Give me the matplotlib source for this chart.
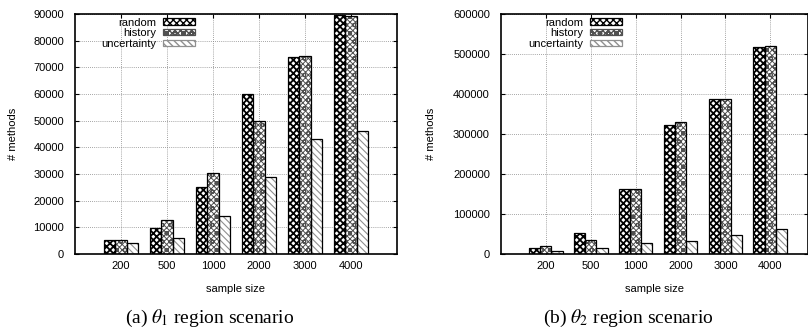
import matplotlib
matplotlib.use("Agg")
import matplotlib.pyplot as plt
import numpy as np

plt.rcParams['font.family'] = ['Liberation Sans', 'DejaVu Sans']
plt.rcParams['mathtext.fontset'] = 'stix'

categories = ["200", "500", "1000", "2000", "3000", "4000"]
series_names = ["random", "history", "uncertainty"]

theta1_random = [5200, 9850, 25300, 59900, 73900, 89800]
theta1_history = [5200, 12700, 30200, 49700, 74400, 89400]
theta1_uncertainty = [4200, 5850, 14300, 28700, 43300, 46100]

theta2_random = [15000, 51500, 163000, 323000, 388000, 518500]
theta2_history = [20800, 34000, 163000, 331000, 388000, 520000]
theta2_uncertainty = [6600, 15000, 28300, 31600, 47400, 63200]

styles = [
    dict(hatch='xxxxx', color='black', lw=1.3),
    dict(hatch='xxxxxxoo', color='#505050', lw=0.7),
    dict(hatch='\\\\\\\\\\', color='#909090', lw=0.8),
]

W, H = 808, 332
fig = plt.figure(figsize=(W / 100, H / 100), dpi=100)

def make_axes(x0, x1, y0, y1):
    return fig.add_axes([x0 / W, 1 - y1 / H, (x1 - x0) / W, (y1 - y0) / H])

ax1 = make_axes(75, 397, 14, 254)
ax2 = make_axes(501, 808, 14, 254)

def draw(ax, data, ymax, ystep, xmax, leg_right, ylabel_x, caption, cap_x):
    x = np.arange(1, len(categories) + 1)
    bw = 0.25
    handles = []
    for i, (vals, st) in enumerate(zip(data, styles)):
        with plt.rc_context({'hatch.linewidth': st['lw'], 'hatch.color': st['color']}):
            bars = ax.bar(x + (i - 1) * bw, vals, width=bw, color='white',
                          edgecolor=st['color'], hatch=st['hatch'], linewidth=0,
                          zorder=2, label=series_names[i])
            for b in bars:
                if hasattr(b, 'set_hatch_linewidth'):
                    b.set_hatch_linewidth(st['lw'])
        ax.bar(x + (i - 1) * bw, vals, width=bw, fill=False, edgecolor='black',
               linewidth=0.9, zorder=3)
        handles.append(bars)
    ax.set_xlim(0, xmax)
    ax.set_ylim(0, ymax)
    ax.set_xticks(x)
    ax.set_xticklabels(categories)
    ax.set_yticks(np.arange(0, ymax + 1, ystep))
    ax.set_axisbelow(True)
    ax.grid(True, color='#888888', linestyle=(0, (1, 1.5)), linewidth=0.6)
    ax.tick_params(direction='in', length=3, labelsize=8, width=0.8,
                   top=True, right=True, pad=5)
    ax.tick_params(axis='y', pad=8)
    for s in ax.spines.values():
        s.set_linewidth(1.2)
    ax.set_xlabel('sample size', fontsize=8)
    ax.xaxis.set_label_coords(0.5, -0.125)
    ax.set_ylabel('# methods', fontsize=8)
    ax.yaxis.set_label_coords(ylabel_x, 0.5)
    leg = ax.legend(handles=handles, loc='upper right', bbox_to_anchor=(leg_right, 0.985),
                    frameon=False, markerfirst=False, fontsize=8, handlelength=2.9,
                    handleheight=0.5, labelspacing=0.05, borderpad=0, borderaxespad=0,
                    handletextpad=0.6)
    for p in leg.get_patches():
        p.set_linewidth(0.9)
    fig.text(cap_x / W, 1 - 318 / H, caption, ha='center', va='center',
             fontsize=14, family='Liberation Serif')

draw(ax1, [theta1_random, theta1_history, theta1_uncertainty], 90000, 10000, 7.0,
     0.373, -0.177, r'(a) $\theta_1$ region scenario', 210)
draw(ax2, [theta2_random, theta2_history, theta2_uncertainty], 600000, 100000, 6.84,
     0.395, -0.212, r'(b) $\theta_2$ region scenario', 628)

fig.savefig('out.png', dpi=100)
